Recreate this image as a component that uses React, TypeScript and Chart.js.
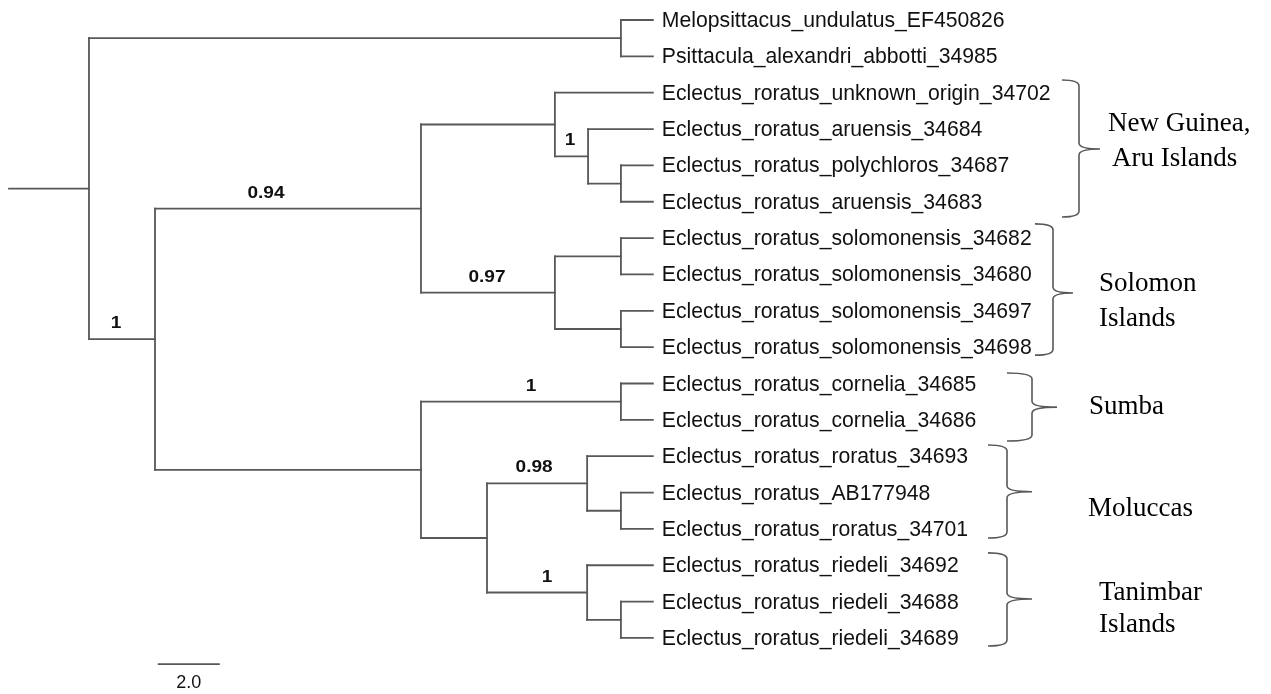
import React, { useEffect, useRef } from "react";
import { Chart, registerables } from "chart.js";

Chart.register(...registerables);

// ---------- data ----------
const leafNames = [
  "Melopsittacus_undulatus_EF450826",
  "Psittacula_alexandri_abbotti_34985",
  "Eclectus_roratus_unknown_origin_34702",
  "Eclectus_roratus_aruensis_34684",
  "Eclectus_roratus_polychloros_34687",
  "Eclectus_roratus_aruensis_34683",
  "Eclectus_roratus_solomonensis_34682",
  "Eclectus_roratus_solomonensis_34680",
  "Eclectus_roratus_solomonensis_34697",
  "Eclectus_roratus_solomonensis_34698",
  "Eclectus_roratus_cornelia_34685",
  "Eclectus_roratus_cornelia_34686",
  "Eclectus_roratus_roratus_34693",
  "Eclectus_roratus_AB177948",
  "Eclectus_roratus_roratus_34701",
  "Eclectus_roratus_riedeli_34692",
  "Eclectus_roratus_riedeli_34688",
  "Eclectus_roratus_riedeli_34689",
];
const tipDepth = 20.77;
// internal nodes, ids 18..34 (depth from root stem, branch-length units)
const nodeDepths = [19.74, 19.74, 18.68, 17.61, 19.74, 19.74, 17.61, 13.29, 19.74, 19.74, 18.65, 19.74, 18.65, 15.42, 13.29, 4.71, 2.58];
const nodeChildren = [
  [0, 1], [4, 5], [3, 19], [2, 20], [6, 7], [8, 9], [22, 23], [21, 24],
  [10, 11], [13, 14], [12, 27], [16, 17], [15, 29], [28, 30], [26, 31], [25, 32], [18, 33],
];
const rootStemStart = 0;
const supportNodes = [25, 24, 20, 33, 26, 28, 30];
const supportValues = ["0.94", "0.97", "1", "1", "1", "0.98", "1"];
const groupNames = [["New Guinea,", "Aru Islands"], ["Solomon", "Islands"], ["Sumba"], ["Moluccas"], ["Tanimbar", "Islands"]];
const scaleBarLength = 2.0;
const scaleBarLabel = "2.0";

// ---------- layout / styles ----------
const LINE = "#585858";
const layout = {
  leafGap: 9,
  leafBaseline: 7,
  supportNudge: [-22, -1, -1.5, -6, 10, -3, 10],
  supportLift: 11,
  braceX: [1079, 1053, 1032, 1007, 1007],
  braceTip: [21, 20, 25, 25, 25],
  braceArm: [17, 18, 25, 19, 19],
  braceSpan: [[1.65, 3.55, 5.42], [5.61, 7.51, 9.22], [9.71, 10.65, 11.58], [11.69, 12.98, 14.25], [14.66, 15.93, 17.22]],
  groupX: [[1108, 1112], [1099, 1099], [1089], [1088], [1099, 1099]],
  groupBaseline: [[131, 166], [291, 326], [414], [516], [600, 632]],
  scaleBarX: 4.8,
  scaleBarY: 17.72,
};

function buildTree() {
  const n = leafNames.length;
  const xs: number[] = [];
  const ys: number[] = [];
  for (let i = 0; i < n; i++) { xs.push(tipDepth); ys.push(i); }
  nodeDepths.forEach((d, k) => {
    const ch = nodeChildren[k];
    xs.push(d);
    ys.push((ys[ch[0]] + ys[ch[1]]) / 2);
  });
  const segs: { x: number; y: number }[][] = [];
  const root = xs.length - 1;
  segs.push([{ x: rootStemStart, y: ys[root] }, { x: xs[root], y: ys[root] }]);
  nodeChildren.forEach((ch, k) => {
    const id = n + k;
    segs.push([{ x: xs[id], y: ys[ch[0]] }, { x: xs[id], y: ys[ch[1]] }]);
    ch.forEach((c) => segs.push([{ x: xs[id], y: ys[c] }, { x: xs[c], y: ys[c] }]));
  });
  return { xs, ys, segs };
}

export default function App() {
  const ref = useRef<HTMLCanvasElement>(null);
  useEffect(() => {
    const { xs, ys, segs } = buildTree();
    const n = leafNames.length;
    const datasets: any[] = segs.map((s) => ({
      data: s, showLine: true, borderColor: LINE, borderWidth: 1.8, pointRadius: 0, borderCapStyle: "square",
    }));
    datasets.push({
      data: [{ x: layout.scaleBarX, y: layout.scaleBarY }, { x: layout.scaleBarX + scaleBarLength, y: layout.scaleBarY }],
      showLine: true, borderColor: LINE, borderWidth: 1.8, pointRadius: 0,
    });

    const textPlugin = {
      id: "treeText",
      afterDatasetsDraw(chart: any) {
        const ctx = chart.ctx as CanvasRenderingContext2D;
        const sx = chart.scales.x, sy = chart.scales.y;
        ctx.save();
        // leaf labels
        ctx.fillStyle = "#111";
        ctx.font = '21.2px "Liberation Sans", Arial, sans-serif';
        ctx.textAlign = "left";
        ctx.textBaseline = "alphabetic";
        leafNames.forEach((name, i) => {
          ctx.fillText(name, sx.getPixelForValue(xs[i]) + layout.leafGap, sy.getPixelForValue(ys[i]) + layout.leafBaseline);
        });
        // support values
        ctx.font = 'bold 17px "Liberation Sans", Arial, sans-serif';
        ctx.textAlign = "center";
        supportNodes.forEach((id, k) => {
          const parent = n + nodeChildren.findIndex((c) => c.includes(id));
          const x0 = sx.getPixelForValue(xs[parent]);
          const x1 = sx.getPixelForValue(xs[id]);
          const cx = (x0 + x1) / 2 + layout.supportNudge[k];
          const by = sy.getPixelForValue(ys[id]) - layout.supportLift;
          ctx.save();
          ctx.translate(cx, by);
          ctx.scale(1.12, 1);
          ctx.fillText(supportValues[k], 0, 0);
          ctx.restore();
        });
        // scale bar label
        ctx.font = '18px "Liberation Sans", Arial, sans-serif';
        ctx.fillText(scaleBarLabel, sx.getPixelForValue(layout.scaleBarX + scaleBarLength / 2), sy.getPixelForValue(layout.scaleBarY) + 24);
        // braces
        ctx.strokeStyle = LINE;
        ctx.lineWidth = 1.6;
        layout.braceSpan.forEach((sp, g) => {
          const x = layout.braceX[g];
          const yT = sy.getPixelForValue(sp[0]);
          const yM = sy.getPixelForValue(sp[1]);
          const yB = sy.getPixelForValue(sp[2]);
          const tipX = x + layout.braceTip[g];
          const armX = x - layout.braceArm[g];
          const r = 6;
          ctx.beginPath();
          ctx.moveTo(armX, yT);
          ctx.quadraticCurveTo(x, yT, x, yT + r);
          ctx.lineTo(x, yM - r);
          ctx.quadraticCurveTo(x, yM, tipX, yM);
          ctx.moveTo(tipX, yM);
          ctx.quadraticCurveTo(x, yM, x, yM + r);
          ctx.lineTo(x, yB - r);
          ctx.quadraticCurveTo(x, yB, armX, yB);
          ctx.stroke();
        });
        // group labels
        ctx.fillStyle = "#000";
        ctx.font = '27px "Liberation Serif", "Times New Roman", serif';
        ctx.textAlign = "left";
        groupNames.forEach((lines, g) => {
          lines.forEach((t, j) => ctx.fillText(t, layout.groupX[g][j], layout.groupBaseline[g][j]));
        });
        ctx.restore();
      },
    };

    const chart = new Chart(ref.current!, {
      type: "scatter",
      data: { datasets },
      options: {
        animation: false,
        responsive: false,
        devicePixelRatio: 1,
        layout: { padding: 0 },
        plugins: { legend: { display: false }, tooltip: { enabled: false } },
        scales: {
          x: { type: "linear", display: false, min: -0.29, max: -0.29 + 1271 / 31 },
          y: { type: "linear", display: false, reverse: true, min: -20 / 36.35, max: -20 / 36.35 + 694 / 36.35 },
        },
      },
      plugins: [textPlugin],
    } as any);
    return () => chart.destroy();
  }, []);

  return (
    <div style={{ position: "fixed", left: 0, top: 0, width: 1271, height: 694, background: "#fff" }}>
      <canvas ref={ref} width={1271} height={694} style={{ width: 1271, height: 694, display: "block" }} />
    </div>
  );
}
